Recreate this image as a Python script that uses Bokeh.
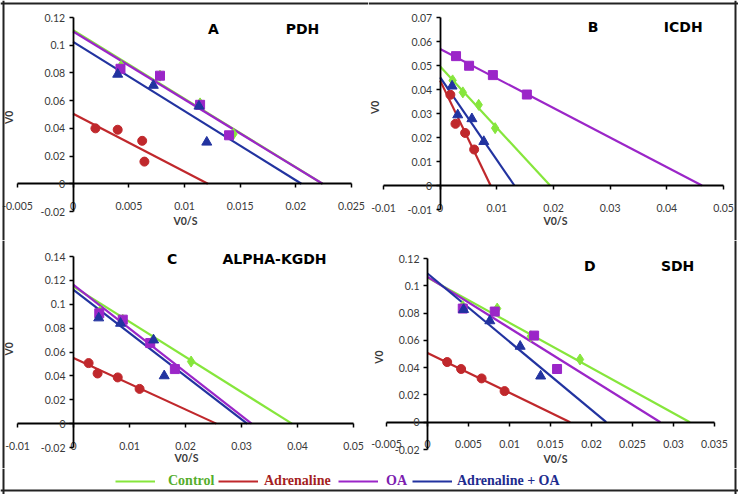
from math import pi
from bokeh.plotting import figure
from bokeh.layouts import column, row
from bokeh.models import Range1d, FixedTicker, Label, Legend, LegendItem, Span
from bokeh.core.properties import value
from bokeh.embed import file_html
from bokeh.resources import INLINE

series_names = ["Control", "Adrenaline", "OA", "Adrenaline + OA"]

# ---------------- Panel A : PDH ----------------
pdh_control_x = [0.0043, 0.0078, 0.0114, 0.0144]
pdh_control_y = [0.085, 0.078, 0.058, 0.036]
pdh_adr_x = [0.0020, 0.0040, 0.0062, 0.0064]
pdh_adr_y = [0.040, 0.039, 0.031, 0.016]
pdh_oa_x = [0.00425, 0.0078, 0.0114, 0.0140]
pdh_oa_y = [0.083, 0.078, 0.057, 0.035]
pdh_adroa_x = [0.0040, 0.0072, 0.0113, 0.0120]
pdh_adroa_y = [0.079, 0.071, 0.056, 0.030]
pdh_yint = [0.1108, 0.0506, 0.1099, 0.1024]
pdh_xint = [0.0224, 0.0121, 0.0224, 0.0205]
pdh_xticks = [-0.005, 0, 0.005, 0.01, 0.015, 0.02, 0.025]
pdh_yticks = [-0.02, 0, 0.02, 0.04, 0.06, 0.08, 0.1, 0.12]

# ---------------- Panel B : ICDH ----------------
icdh_control_x = [0.0022, 0.0040, 0.0068, 0.0097]
icdh_control_y = [0.0438, 0.0388, 0.0336, 0.0239]
icdh_adr_x = [0.0018, 0.0027, 0.0044, 0.0060]
icdh_adr_y = [0.0378, 0.0257, 0.0219, 0.0150]
icdh_oa_x = [0.0028, 0.0051, 0.0093, 0.0153]
icdh_oa_y = [0.0539, 0.0499, 0.0460, 0.0379]
icdh_adroa_x = [0.0021, 0.0031, 0.0056, 0.0077]
icdh_adroa_y = [0.0414, 0.0294, 0.0278, 0.0183]
icdh_yint = [0.0496, 0.0437, 0.0569, 0.0451]
icdh_xint = [0.0194, 0.0089, 0.0462, 0.0131]
icdh_xticks = [-0.01, 0, 0.01, 0.02, 0.03, 0.04, 0.05]
icdh_yticks = [-0.01, 0, 0.01, 0.02, 0.03, 0.04, 0.05, 0.06, 0.07]

# ---------------- Panel C : ALPHA-KGDH ----------------
kgdh_control_x = [0.0047, 0.0088, 0.0142, 0.0210]
kgdh_control_y = [0.094, 0.087, 0.070, 0.052]
kgdh_adr_x = [0.0027, 0.0043, 0.0079, 0.0118]
kgdh_adr_y = [0.0507, 0.0420, 0.0387, 0.0291]
kgdh_oa_x = [0.0046, 0.0088, 0.0137, 0.0181]
kgdh_oa_y = [0.0924, 0.0871, 0.0675, 0.0457]
kgdh_adroa_x = [0.0045, 0.0084, 0.0143, 0.0162]
kgdh_adroa_y = [0.0885, 0.0840, 0.0700, 0.0400]
kgdh_yint = [0.1148, 0.0549, 0.1162, 0.1120]
kgdh_xint = [0.0390, 0.0255, 0.0318, 0.0310]
kgdh_xticks = [-0.01, 0, 0.01, 0.02, 0.03, 0.04, 0.05]
kgdh_yticks = [-0.02, 0, 0.02, 0.04, 0.06, 0.08, 0.1, 0.12, 0.14]

# ---------------- Panel D : SDH ----------------
sdh_control_x = [0.0043, 0.0085, 0.0126, 0.0186]
sdh_control_y = [0.085, 0.0833, 0.063, 0.046]
sdh_adr_x = [0.0024, 0.0041, 0.0066, 0.0094]
sdh_adr_y = [0.0441, 0.0390, 0.0321, 0.0228]
sdh_oa_x = [0.0043, 0.0082, 0.0130, 0.0158]
sdh_oa_y = [0.0833, 0.0811, 0.0635, 0.0390]
sdh_adroa_x = [0.0044, 0.0076, 0.0113, 0.0138]
sdh_adroa_y = [0.0826, 0.0743, 0.0556, 0.0338]
sdh_yint = [0.1060, 0.0507, 0.1065, 0.1090]
sdh_xint = [0.0320, 0.0174, 0.0284, 0.0218]
sdh_xticks = [-0.005, 0, 0.005, 0.01, 0.015, 0.02, 0.025, 0.03, 0.035]
sdh_yticks = [-0.02, 0, 0.02, 0.04, 0.06, 0.08, 0.1, 0.12]

# ---------------- styles ----------------
line_colors = ["#86e63c", "#c0282c", "#9b26c8", "#2233a0"]
text_colors = ["#55ad2c", "#a51f1f", "#7d1fb0", "#1e2c8e"]
markers = ["diamond", "circle", "square", "triangle"]
marker_sizes = [11, 9, 9, 10]
TICK_FONT = "Lato"
TICK_COLOR = "#3a3a3a"
BORDER_COLOR = "#222222"


def make_ranges(W, H, xlo, xhi, ylo, yhi, geom):
    """geom = canvas pixel positions (x of xlo, x of xhi, y-from-top of yhi, y-from-top of ylo)."""
    ax, bx, ty, by = geom
    sx = (xhi - xlo) / (bx - ax)
    sy = (yhi - ylo) / (by - ty)
    xr = Range1d(xlo - ax * sx, xhi + (W - bx) * sx)
    yr = Range1d(ylo - (H - by) * sy, yhi + ty * sy)
    return xr, yr, sx, sy


def add_border(p, xr, yr, sx, sy, sides, W, H):
    off = 3
    if "left" in sides:
        p.add_layout(Span(location=xr.start + off * sx, dimension="height",
                          line_color=BORDER_COLOR, line_width=2))
    if "right" in sides:
        p.add_layout(Span(location=xr.start + (W - off) * sx, dimension="height",
                          line_color=BORDER_COLOR, line_width=2))
    if "top" in sides:
        p.add_layout(Span(location=yr.end - off * sy, dimension="width",
                          line_color=BORDER_COLOR, line_width=2))
    if "bottom" in sides:
        p.add_layout(Span(location=yr.end - (H - off - 1) * sy, dimension="width",
                          line_color=BORDER_COLOR, line_width=2))


def make_panel(W, H, geom, xticks, yticks, series_xy, yints, xints,
               letter, letter_xy, name, name_xy, v0_xy, v0s_px, sides):
    xr, yr, sx, sy = make_ranges(W, H, xticks[0], xticks[-1], yticks[0], yticks[-1], geom)
    p = figure(width=W, height=H, x_range=xr, y_range=yr,
               toolbar_location=None, output_backend="svg", min_border=0)
    p.grid.visible = False
    p.outline_line_color = None
    p.background_fill_color = "white"
    p.border_fill_color = "white"

    xa = p.xaxis[0]
    ya = p.yaxis[0]
    xa.fixed_location = 0
    ya.fixed_location = 0
    xa.bounds = (xticks[0], xticks[-1])
    ya.bounds = (yticks[0], yticks[-1])
    xa.ticker = FixedTicker(ticks=xticks)
    ya.ticker = FixedTicker(ticks=yticks)
    xa.major_label_overrides = {t: f"{t:g}" for t in xticks}
    ya.major_label_overrides = {t: f"{t:g}" for t in yticks}
    for ax in (xa, ya):
        ax.axis_line_color = "black"
        ax.axis_line_width = 1.8
        ax.major_tick_line_color = "black"
        ax.major_tick_line_width = 1.5
        ax.major_tick_out = 4
        ax.major_tick_in = 0
        ax.minor_tick_line_color = None
        ax.major_label_text_font = TICK_FONT
        ax.major_label_text_font_size = "10.5px"
        ax.major_label_text_color = TICK_COLOR
    xa.major_label_standoff = 14
    ya.major_label_standoff = 4

    # trend lines (from intercepts)
    for i in range(4):
        p.line([0, xints[i]], [yints[i], 0], line_color=line_colors[i], line_width=2.2)
    # data points
    for i, (xs, ys) in enumerate(series_xy):
        p.scatter(xs, ys, marker=markers[i], size=marker_sizes[i],
                  fill_color=line_colors[i], line_color=line_colors[i])

    for txt, (tx, ty) in ((letter, letter_xy), (name, name_xy)):
        p.add_layout(Label(x=tx, y=ty, text=txt,
                           text_font="DejaVu Sans", text_font_style="bold",
                           text_font_size="14px", text_align="center",
                           text_baseline="middle", text_color="black"))
    p.add_layout(Label(x=v0_xy[0], y=v0_xy[1], text="V0", angle=pi / 2,
                       text_font=TICK_FONT, text_font_style="bold",
                       text_font_size="10.5px", text_align="center",
                       text_baseline="middle", text_color=TICK_COLOR))
    # x-axis title, placed by canvas pixel position (from the left / from the top)
    lx = xr.start + v0s_px[0] * sx
    ly = yr.end - v0s_px[1] * sy
    p.add_layout(Label(x=lx, y=ly, text="V0/S",
                       text_font=TICK_FONT, text_font_style="bold",
                       text_font_size="10.5px", text_align="center",
                       text_baseline="middle", text_color=TICK_COLOR))
    add_border(p, xr, yr, sx, sy, sides, W, H)
    return p


pA = make_panel(368, 240, (17, 351, 17, 211), pdh_xticks, pdh_yticks,
                [(pdh_control_x, pdh_control_y), (pdh_adr_x, pdh_adr_y),
                 (pdh_oa_x, pdh_oa_y), (pdh_adroa_x, pdh_adroa_y)],
                pdh_yint, pdh_xint, "A", (0.0126, 0.112), "PDH", (0.0206, 0.112),
                (-0.0058, 0.048), (185, 220), ("left", "top"))
pB = make_panel(370, 240, (15, 355, 17, 209), icdh_xticks, icdh_yticks,
                [(icdh_control_x, icdh_control_y), (icdh_adr_x, icdh_adr_y),
                 (icdh_oa_x, icdh_oa_y), (icdh_adroa_x, icdh_adroa_y)],
                icdh_yint, icdh_xint, "B", (0.027, 0.066), "ICDH", (0.0429, 0.066),
                (-0.0115, 0.0326), (187, 220), ("right", "top"))
pC = make_panel(368, 228, (17, 353, 16, 207), kgdh_xticks, kgdh_yticks,
                [(kgdh_control_x, kgdh_control_y), (kgdh_adr_x, kgdh_adr_y),
                 (kgdh_oa_x, kgdh_oa_y), (kgdh_adroa_x, kgdh_adroa_y)],
                kgdh_yint, kgdh_xint, "C", (0.0176, 0.1378), "ALPHA-KGDH", (0.0359, 0.1378),
                (-0.0115, 0.0627), (186, 217), ("left",))
pD = make_panel(370, 228, (18, 346, 18, 209), sdh_xticks, sdh_yticks,
                [(sdh_control_x, sdh_control_y), (sdh_adr_x, sdh_adr_y),
                 (sdh_oa_x, sdh_oa_y), (sdh_adroa_x, sdh_adroa_y)],
                sdh_yint, sdh_xint, "D", (0.0198, 0.1145), "SDH", (0.0305, 0.1145),
                (-0.0059, 0.0478), (187, 218), ("right",))

# ---------------- legend strip ----------------
LW, LH = 738, 26
lxr, lyr = Range1d(0, LW), Range1d(0, LH)
pL = figure(width=LW, height=LH, x_range=lxr, y_range=lyr,
            toolbar_location=None, output_backend="svg", min_border=0,
            x_axis_location=None, y_axis_location=None)
pL.grid.visible = False
pL.outline_line_color = None
pL.background_fill_alpha = 0
pL.border_fill_alpha = 0
legend_x = [115, 218, 338, 412]
legend_standoff = [13, 6, 8, 5]
nan = float("nan")
for i, name in enumerate(series_names):
    r = pL.line(x=[nan], y=[nan], line_color=line_colors[i], line_width=2.2)
    leg = Legend(items=[LegendItem(label=name, renderers=[r])],
                 location=(legend_x[i], 5), orientation="horizontal",
                 glyph_width=40, glyph_height=14, label_height=14,
                 padding=0, margin=0, spacing=0, label_standoff=legend_standoff[i],
                 label_text_font="Liberation Serif", label_text_font_style="bold",
                 label_text_font_size="14px", label_text_color=text_colors[i],
                 border_line_color=None, background_fill_alpha=0)
    pL.add_layout(leg)
add_border(pL, lxr, lyr, 1, 1, ("left", "right", "bottom"), LW, LH)

root = column(row(pA, pB), row(pC, pD), pL)

open("out.html", "w").write(file_html(root, INLINE))
